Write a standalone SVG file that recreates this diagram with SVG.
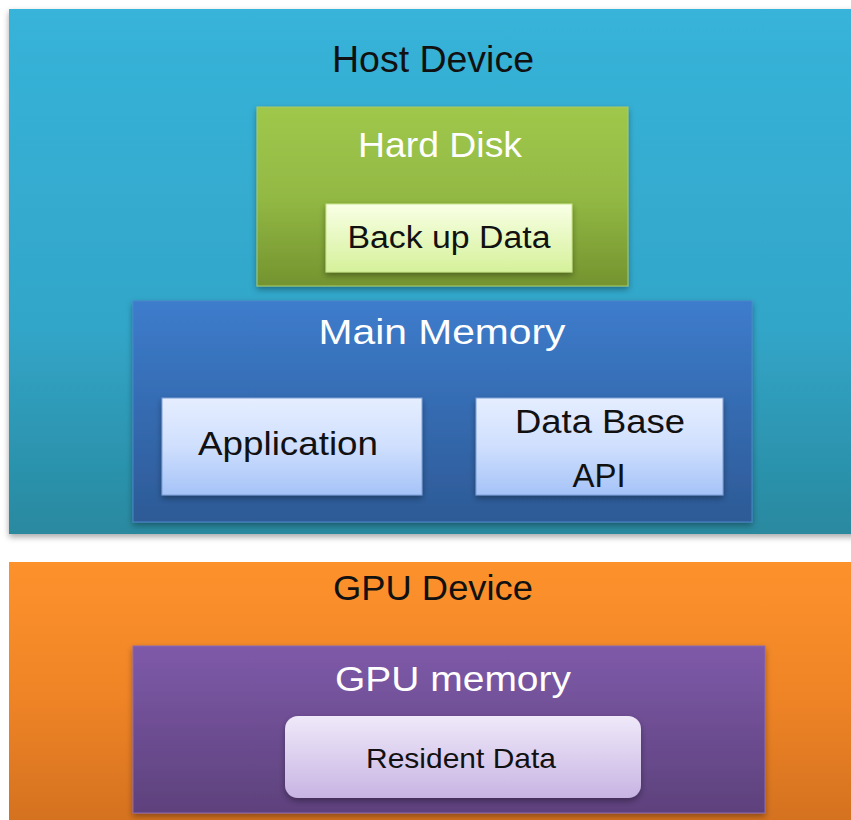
<svg xmlns="http://www.w3.org/2000/svg" width="851" height="820" viewBox="0 0 851 820">
<style>
text{font-family:"Liberation Sans",Arial,sans-serif;text-anchor:middle}
.dark{fill:#111}
.light{fill:#fff}
</style>
<defs>
<linearGradient id="gHost" x1="0" y1="0" x2="0" y2="1"><stop offset="0" stop-color="#37b3d9"/><stop offset="0.6" stop-color="#32a6c9"/><stop offset="1" stop-color="#29899f"/></linearGradient>
<linearGradient id="gDisk" x1="0" y1="0" x2="0" y2="1"><stop offset="0" stop-color="#9fc84b"/><stop offset="0.5" stop-color="#93b944"/><stop offset="1" stop-color="#74932f"/></linearGradient>
<linearGradient id="gBack" x1="0" y1="0" x2="0" y2="1"><stop offset="0" stop-color="#f9ffe6"/><stop offset="1" stop-color="#d5f19a"/></linearGradient>
<linearGradient id="gMain" x1="0" y1="0" x2="0" y2="1"><stop offset="0" stop-color="#3d7ccc"/><stop offset="1" stop-color="#2d5a96"/></linearGradient>
<linearGradient id="gApp" x1="0" y1="0" x2="0" y2="1"><stop offset="0" stop-color="#e6eeff"/><stop offset="0.5" stop-color="#cfdffd"/><stop offset="1" stop-color="#a5c3f8"/></linearGradient>
<linearGradient id="gGpu" x1="0" y1="0" x2="0" y2="1"><stop offset="0" stop-color="#fd922c"/><stop offset="0.5" stop-color="#ef8426"/><stop offset="1" stop-color="#d2701f"/></linearGradient>
<linearGradient id="gGmem" x1="0" y1="0" x2="0" y2="1"><stop offset="0" stop-color="#7e5aa9"/><stop offset="1" stop-color="#5d417c"/></linearGradient>
<linearGradient id="gRes" x1="0" y1="0" x2="0" y2="1"><stop offset="0" stop-color="#efe9f9"/><stop offset="1" stop-color="#c8b4e3"/></linearGradient>
<filter id="sh" x="-10%" y="-10%" width="120%" height="130%"><feDropShadow dx="0" dy="3" stdDeviation="3" flood-color="#000" flood-opacity="0.35"/></filter>
</defs>
<g id="host-device">
<rect x="9" y="9" width="850" height="525" fill="url(#gHost)" filter="url(#sh)"/>
<text class="dark" x="433" y="72" font-size="36" textLength="202" lengthAdjust="spacingAndGlyphs">Host Device</text>
</g>
<g id="hard-disk">
<rect x="257" y="107" width="371" height="179" fill="url(#gDisk)" stroke="#a9ca66" stroke-width="1" filter="url(#sh)"/>
<text class="light" x="440" y="157" font-size="35" textLength="164" lengthAdjust="spacingAndGlyphs">Hard Disk</text>
</g>
<g id="backup-data">
<rect x="326" y="204" width="246" height="68" fill="url(#gBack)" stroke="#c8e38a" stroke-width="1" filter="url(#sh)"/>
<text class="dark" x="449" y="248" font-size="31" textLength="203" lengthAdjust="spacingAndGlyphs">Back up Data</text>
</g>
<g id="main-memory">
<rect x="133" y="301" width="619" height="221" fill="url(#gMain)" stroke="#4d84c9" stroke-width="1" filter="url(#sh)"/>
<text class="light" x="442" y="344" font-size="35" textLength="247" lengthAdjust="spacingAndGlyphs">Main Memory</text>
</g>
<g id="application">
<rect x="162" y="398" width="260" height="97" fill="url(#gApp)" stroke="#7d9fd6" stroke-width="1" filter="url(#sh)"/>
<text class="dark" x="288" y="455" font-size="33" textLength="180" lengthAdjust="spacingAndGlyphs">Application</text>
</g>
<g id="database-api">
<rect x="476" y="398" width="247" height="97" fill="url(#gApp)" stroke="#7d9fd6" stroke-width="1" filter="url(#sh)"/>
<text class="dark" x="600" y="433" font-size="33" textLength="170" lengthAdjust="spacingAndGlyphs">Data Base</text>
<text class="dark" x="599" y="487" font-size="33">API</text>
</g>
<g id="gpu-device">
<rect x="9" y="562" width="850" height="270" fill="url(#gGpu)"/>
<text class="dark" x="433" y="600" font-size="35" textLength="200" lengthAdjust="spacingAndGlyphs">GPU Device</text>
</g>
<g id="gpu-memory">
<rect x="133" y="646" width="632" height="167" fill="url(#gGmem)" stroke="#8a6ab4" stroke-width="1" filter="url(#sh)"/>
<text class="light" x="453" y="691" font-size="35" textLength="236" lengthAdjust="spacingAndGlyphs">GPU memory</text>
</g>
<g id="resident-data">
<rect x="285" y="716" width="356" height="82" rx="13" fill="url(#gRes)" filter="url(#sh)"/>
<text class="dark" x="461" y="768" font-size="28" textLength="190" lengthAdjust="spacingAndGlyphs">Resident Data</text>
</g>
<g id="connectors"/>
</svg>
